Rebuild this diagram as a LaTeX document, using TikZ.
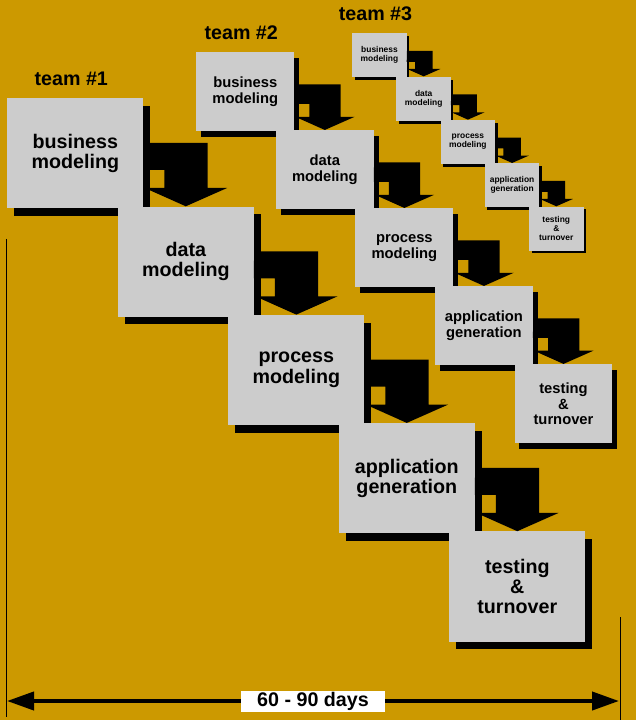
\documentclass[tikz,border=0pt]{standalone}
\usepackage{fontspec}
\setmainfont{Liberation Sans}
\usetikzlibrary{arrows.meta, positioning}
\definecolor{rdgold}{HTML}{CC9900}
\definecolor{rdgray}{HTML}{CCCCCC}

\begin{document}
\begin{tikzpicture}[x=.025cm, y=-.025cm,
      ph/.style={fill=rdgray, anchor=north west, align=center, inner sep=0pt},
      tm/.style={inner sep=0pt, font=\fontsize{14}{16}\selectfont\bfseries},
      span/.style={line width=.1cm, {Triangle[length=.675cm,width=.45cm]}-{Triangle[length=.675cm,width=.45cm]}}]
      \useasboundingbox (0,0) rectangle (636,720);
      \fill[rdgold] (0,0) rectangle (636,720);
      % three teams, same five phases, smaller each time
      \foreach \tm/\x/\y/\k/\fs/\ls in {1/7/98/1/14/14.4, 2/196/52/.72/10.5/11.2, 3/352/33/.4/6/6.4} {
        \foreach \i/\lbl in {0/{business\\modeling}, 1/{data\\modeling}, 2/{process\\modeling},
                             3/{application\\generation}, 4/{testing\\\&\\turnover}} {
          \fill ({\x+(\i*110.5+7)*\k},{\y+(\i*108.3+8)*\k}) rectangle ++({136*\k},{110*\k});
          \node[ph, minimum width=\k*3.4cm, minimum height=\k*2.75cm, font=\fontsize{\fs}{\ls}\selectfont\bfseries]
            (t\tm-\i) at ({\x+\i*110.5*\k},{\y+\i*108.3*\k}) {\lbl};}
        \foreach \i [evaluate=\i as \j using int(\i+1)] in {0,...,3}
          \fill (t\tm-\i.north east) ++(0,{45*\k}) -- ++({64*\k},0) -- ++(0,{45*\k}) -- ++({19.5*\k},0)
            -- (t\tm-\j.north) -- ++({-41*\k},{-18.3*\k}) -- ++({19.5*\k},0) -- ++(0,{-18*\k}) -- ++({-21*\k},0) -- cycle;
        \node[tm, above=.31cm of t\tm-0, xshift=-.1cm] (lab\tm) {team \#\tm};
      }

      \coordinate (l0) at (6,239);   \coordinate (l1) at (6,717);
      \coordinate (r0) at (620,617); \coordinate (r1) at (620,720);
      \coordinate (a0) at (7,701);   \coordinate (a1) at (619,701);
      \draw[line width=.7pt] (l0) -- (l1);
      \draw[line width=.7pt] (r0) -- (r1);
      \draw[span] (a0) -- node[fill=white, inner sep=0pt, minimum width=3.6cm, minimum height=.525cm,
        font=\fontsize{14}{16}\selectfont\bfseries] (dur) {60 - 90 days} (a1);
\end{tikzpicture}
\end{document}
